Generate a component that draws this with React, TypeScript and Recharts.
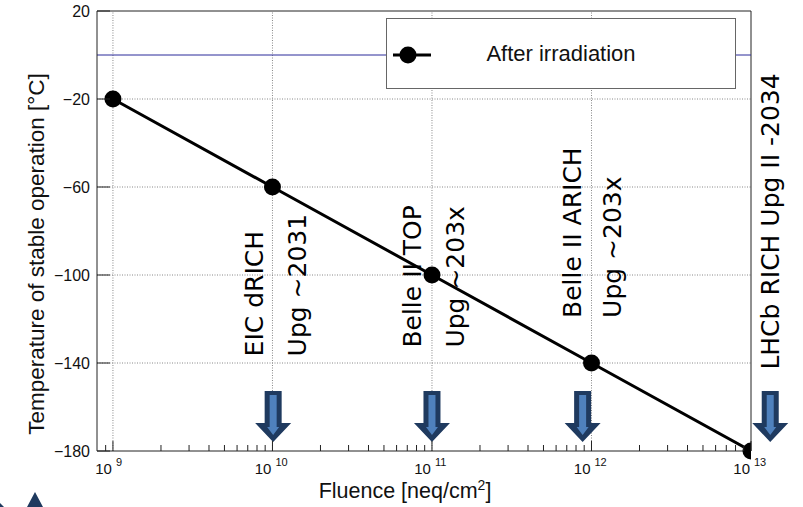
import { LineChart, Line, XAxis, YAxis, ReferenceLine, ReferenceDot, Legend, Label } from 'recharts';

// 測定点
const fluence = [1e9, 1e10, 1e11, 1e12, 1e13];
const temperature = [-20, -60, -100, -140, -180];

// 軸目盛
const decades = [1e9, 1e10, 1e11, 1e12, 1e13];
const minorSteps = [2, 3, 4, 5, 6, 7, 8, 9];
const yTicks = [-180, -140, -100, -60, -20, 20];
const yGrid = [-140, -100, -60, -20];

// 注記（縦書きテキスト）
const noteText = ['EIC dRICH', 'Upg ~2031', 'Belle II TOP', 'Upg ~203x', 'Belle II ARICH', 'Upg ~203x', 'LHCb RICH Upg II -2034'];
const noteX = [7.7e9, 1.43e10, 7.55e10, 1.4e11, 7.6e11, 1.35e12, 1.32e13];
const noteY = [-137, -137, -133, -133, -119.5, -119.5, -143];

// 矢印
const arrowX = [1.01e10, 1e11, 8.8e11, 1.32e13];

const xTicks = [9e8, ...decades.flatMap((d) => (d < 1e13 ? [d, ...minorSteps.map((m) => m * d)] : [d]))];

const data = fluence.map((f, i) => ({ fluence: f, temp: temperature[i] }));

const SANS = '"Liberation Sans", Arial, sans-serif';
const NAVY = '#1f3a5f';
const LIGHT = '#4f81bd';

const XTick = ({ x, y, payload }: any) => {
  const v = payload.value;
  const exp = Math.round(Math.log10(v));
  const major = Math.abs(v - Math.pow(10, exp)) < 1;
  if (!major) {
    return <line x1={x} x2={x} y1={y} y2={y - 6} stroke="#222" strokeWidth={1} />;
  }
  return (
    <g>
      <line x1={x} x2={x} y1={y} y2={y - 10} stroke="#222" strokeWidth={1} />
      <text x={x - 1} y={y + 23} textAnchor="end" fontSize={15} fontFamily={SANS} fill="#111">
        10
      </text>
      <text x={x + 3} y={y + 15} textAnchor="start" fontSize={11} fontFamily={SANS} fill="#111">
        {exp}
      </text>
    </g>
  );
};

const YTick = ({ x, y, payload }: any) => {
  const v = payload.value;
  const label = v < 0 ? `\u2212${Math.abs(v)}` : `${v}`;
  return (
    <g>
      <line x1={x} x2={x + 13} y1={y} y2={y} stroke="#222" strokeWidth={1} />
      <text x={x - 7} y={y} textAnchor="end" dominantBaseline="central" fontSize={16} fontFamily={SANS} fill="#111">
        {label}
      </text>
    </g>
  );
};

const ArrowShape = ({ cx, cy }: any) => {
  const outer = [
    [cx - 8.5, cy - 60],
    [cx + 8.5, cy - 60],
    [cx + 8.5, cy - 28],
    [cx + 18, cy - 28],
    [cx, cy - 9],
    [cx - 18, cy - 28],
    [cx - 8.5, cy - 28],
  ];
  const inner = [
    [cx - 3.5, cy - 56],
    [cx + 3.5, cy - 56],
    [cx + 3.5, cy - 24],
    [cx + 6, cy - 24],
    [cx, cy - 16],
    [cx - 6, cy - 24],
    [cx - 3.5, cy - 24],
  ];
  return (
    <g>
      <polygon points={outer.map((p) => p.join(',')).join(' ')} fill={NAVY} />
      <polygon points={inner.map((p) => p.join(',')).join(' ')} fill={LIGHT} />
    </g>
  );
};

const NoteShape = (text: string) => ({ cx, cy }: any) => (
  <text
    x={cx}
    y={cy}
    transform={`rotate(-90 ${cx} ${cy})`}
    textAnchor="start"
    dominantBaseline="central"
    fontSize={25}
    fontFamily='"DejaVu Sans", sans-serif'
    fill="#000"
  >
    {text}
  </text>
);

const LegendBox = () => (
  <div
    style={{
      width: 350,
      height: 71,
      boxSizing: 'border-box',
      border: '1px solid #666',
      background: '#fff',
      position: 'relative',
    }}
  >
    <svg width={40} height={20} style={{ position: 'absolute', left: 5, top: 26 }}>
      <line x1={1} x2={39} y1={10} y2={10} stroke="#000" strokeWidth={3} />
      <circle cx={16} cy={10} r={8.5} fill="#000" />
    </svg>
    <div
      style={{
        position: 'absolute',
        left: 0,
        right: 0,
        top: 0,
        bottom: 0,
        display: 'flex',
        alignItems: 'center',
        justifyContent: 'center',
        fontFamily: SANS,
        fontSize: 22,
        color: '#111',
      }}
    >
      After irradiation
    </div>
  </div>
);

const App = () => {
  return (
    <div style={{ position: 'absolute', left: 0, top: 0, width: 803, height: 507, background: '#fff' }}>
      <LineChart width={803} height={507} data={data} margin={{ top: 11, right: 52, left: 0, bottom: 0 }}>
        <XAxis
          dataKey="fluence"
          type="number"
          scale="log"
          domain={[Math.pow(10, 8.9), 1e13]}
          allowDataOverflow
          ticks={xTicks}
          interval={0}
          tickSize={0}
          tickMargin={0}
          tickLine={false}
          axisLine={{ stroke: '#222' }}
          tick={<XTick />}
          height={56}
        >
          <Label
            content={() => (
              <text x={405} y={498} textAnchor="middle" fontSize={21.5} fontFamily={SANS} fill="#111">
                Fluence [neq/cm
                <tspan fontSize={14} dy={-8}>
                  2
                </tspan>
                <tspan dy={8}>]</tspan>
              </text>
            )}
          />
        </XAxis>
        <YAxis
          type="number"
          domain={[-180, 20]}
          ticks={yTicks}
          interval={0}
          tickSize={0}
          tickMargin={0}
          tickLine={false}
          axisLine={{ stroke: '#222' }}
          tick={<YTick />}
          width={97}
        >
          <Label
            content={() => (
              <text
                x={36}
                y={254}
                transform="rotate(-90 36 254)"
                textAnchor="middle"
                dominantBaseline="central"
                fontSize={22.5}
                fontFamily={SANS}
                fill="#111"
              >
                Temperature of stable operation [°C]
              </text>
            )}
          />
        </YAxis>

        {/* グリッド（点線） */}
        {decades.slice(0, 4).map((d) => (
          <ReferenceLine key={`gx${d}`} x={d} stroke="#888" strokeDasharray="1 1.5" />
        ))}
        {yGrid.map((v) => (
          <ReferenceLine key={`gy${v}`} y={v} stroke="#888" strokeDasharray="1 1.5" />
        ))}
        {/* 枠 */}
        <ReferenceLine y={20} stroke="#222" />
        <ReferenceLine x={1e13} stroke="#222" />
        {/* 0℃ ライン */}
        <ReferenceLine y={0} stroke="#2a2a9a" />

        {noteText.map((t, i) => (
          <ReferenceDot key={`n${i}`} x={noteX[i]} y={noteY[i]} ifOverflow="visible" shape={NoteShape(t)} />
        ))}

        <Line
          dataKey="temp"
          stroke="#000"
          strokeWidth={3}
          dot={{ r: 8.5, fill: '#000', stroke: '#000', strokeWidth: 0 }}
          isAnimationActive={false}
          legendType="none"
        />

        {arrowX.map((x, i) => (
          <ReferenceDot key={`a${i}`} x={x} y={-180} ifOverflow="visible" shape={<ArrowShape />} />
        ))}

        <Legend
          layout="vertical"
          align="center"
          verticalAlign="middle"
          content={() => <LegendBox />}
          wrapperStyle={{ position: 'absolute', left: 386, top: 18, width: 350, height: 71 }}
        />
      </LineChart>
      <svg width={60} height={20} style={{ position: 'absolute', left: 0, top: 487 }}>
        <polygon points="35,5 43,20 27,20" fill={NAVY} />
        <polygon points="0,16 4,20 0,20" fill={NAVY} />
      </svg>
    </div>
  );
};

export default App;
